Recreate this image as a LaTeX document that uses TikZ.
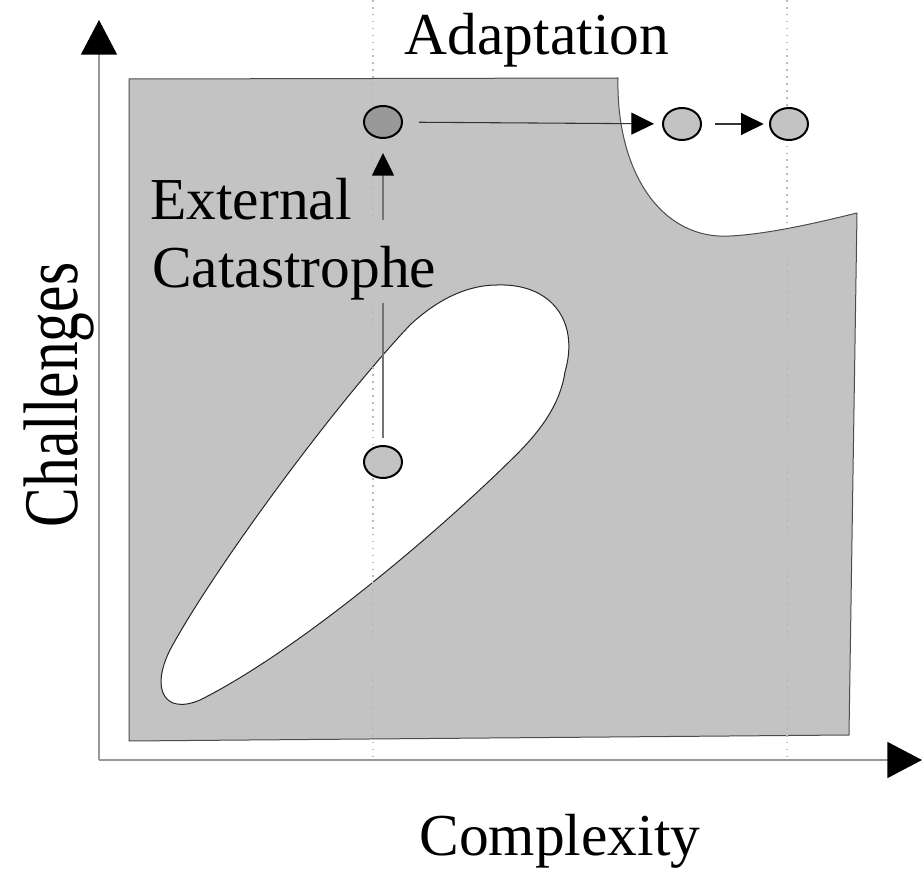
\documentclass[tikz,border=0pt]{standalone}
\usepackage{fontspec}
\setmainfont{Liberation Serif}
\usetikzlibrary{arrows.meta,shapes.geometric}
\begin{document}
\begin{tikzpicture}[x=0.75pt, y=-0.75pt, line join=round,
		font=\fontsize{44.6}{50}\selectfont,
		axisarr/.style={-{Triangle[length=26pt,width=27pt,color=black]}, draw=gray!80, line width=1.2pt},
		smallarr/.style={-{Triangle[length=17pt,width=16.5pt,color=black]}},
		state/.style={ellipse, draw, line width=1.5pt, inner sep=0, minimum width=28.5pt, minimum height=24pt, fill=region},
		guide/.style={gray!55, line width=0.9pt, dash pattern=on 1.2pt off 4pt}]
			\definecolor{region}{rgb}{0.765, 0.765, 0.765}
			\definecolor{darkstate}{rgb}{0.6, 0.6, 0.6}
			\useasboundingbox (0,0) rectangle (922,870);
			
			\filldraw[fill=region, draw=black!70, line width=0.75pt](129,79)--(618,78)
			.. controls (616,170) and (660,240) .. (730,236)
			.. controls (770,234) and (820,222) .. (857,213)--(849,735)--(129,741)--cycle;
			\filldraw[fill=white, draw=black!85, line width=0.75pt](497,285)
			.. controls (550,283) and (580,320) .. (565,372)
			.. controls (560,405) and (540,432) .. (511,460)
			.. controls (440,530) and (300,650) .. (200,700)
			.. controls (165,715) and (150,690) .. (170,650)
			.. controls (210,575) and (330,410) .. (410,325)
			.. controls (440,297) and (470,285) .. (497,285)--cycle;
			
			\foreach \x in {373,787}
				\draw[guide](\x,0)--(\x,760);
			
			\coordinate (O) at (99,760);
			\coordinate (ytop) at (99,20);
			\coordinate (xend) at (922,760);
			\draw[axisarr](O)--(ytop);
			\draw[axisarr](O)--(xend);
			
			\node[state] (before) at (383,462) {};
			\node[state, fill=darkstate] (after) at (383,122) {};
			\node[state] (stepA) at (682,124) {};
			\node[state] (stepB) at (789,124) {};
			
			\draw[smallarr, draw=gray!90!black, line width=1.1pt, shorten <=5pt, shorten >=10.5pt](before)--(after);
			\draw[smallarr, draw=black!80, line width=0.8pt, shorten <=12pt, shorten >=6pt](after)--(stepA);
			\draw[smallarr, draw=black!80, line width=0.8pt, shorten <=10pt, shorten >=4pt](stepA)--(stepB);
			
			\node[anchor=base west, inner sep=0] (ext) at (150,220) {External};
			\node[anchor=base west, inner xsep=0, inner ysep=0, fill=region, text height=50pt, text depth=12pt] (cat) at (152,287) {Catastrophe};
			\node[anchor=base] (adapt) at (537,55) {Adaptation};
			\node[anchor=base] (cplx) at (560,855) {Complexity};
			\node[rotate=90, anchor=base, inner sep=0] (chal) at (77,395) {\scalebox{1}[1.3]{Challenges}};
		\end{tikzpicture}
\end{document}
